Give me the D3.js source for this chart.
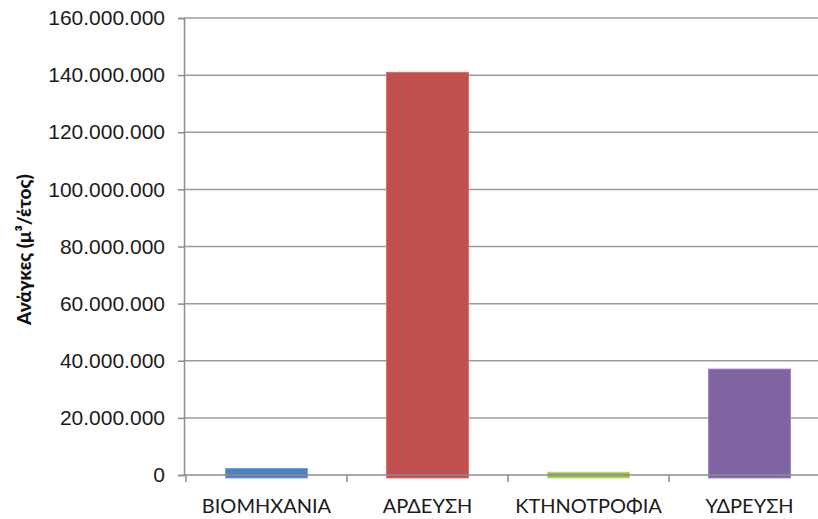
<!DOCTYPE html>
<html>
<head>
<meta charset="utf-8">
<script src="https://cdn.jsdelivr.net/npm/d3@7"></script>
<style>
  body { margin: 0; background: #fff; }
  svg { display: block; font-family: Lato, "Open Sans", sans-serif; }
</style>
</head>
<body>
<div id="chart"></div>
<script>
var categories = ["ΒΙΟΜΗΧΑΝΙΑ", "ΑΡΔΕΥΣΗ", "ΚΤΗΝΟΤΡΟΦΙΑ", "ΥΔΡΕΥΣΗ"];
var needs = [2300000, 141000000, 1000000, 37100000];
var barColors = ["#4F81BD", "#C0504D", "#9BBB59", "#8064A2"];
var yTicks = [0, 20000000, 40000000, 60000000, 80000000, 100000000, 120000000, 140000000, 160000000];
var yTitle = "Ανάγκες (μ³/έτος)";

var width = 818, height = 519;
var margin = {left: 184, right: -12, top: 18, bottom: 44};

var svg = d3.select('#chart')
  .append('svg')
  .attr("width", width)
  .attr("height", height);

var x = d3.scaleBand()
  .domain(categories)
  .range([margin.left + 2, width - margin.right])
  .paddingInner(0.49)
  .paddingOuter(0.245);

var y = d3.scaleLinear()
  .domain([0, 160000000])
  .range([height - margin.bottom, margin.top]);

var fmt = function(d) {
  return d3.format(",")(d).replace(/,/g, ".");
};

// gridlines + left axis
var yAxis = g => g
  .attr("transform", `translate(${margin.left},0)`)
  .call(d3.axisLeft(y).tickValues(yTicks).tickFormat(fmt).tickSize(6).tickPadding(13))
  .call(g => g.selectAll(".tick line").attr("stroke", "#8c8c8c").attr("stroke-width", 1.5))
  .call(g => g.select(".domain").attr("stroke", "#8c8c8c").attr("stroke-width", 1.5))
  .call(g => g.selectAll(".tick text")
    .attr("fill", "#1a1a1a")
    .style("font-size", "21px"));

svg.append("g")
  .attr("stroke", "#9a9a9a")
  .attr("stroke-width", 1.5)
  .selectAll("line")
  .data(yTicks.slice(1))
  .enter()
  .append("line")
  .attr("x1", margin.left)
  .attr("x2", width)
  .attr("y1", d => y(d))
  .attr("y2", d => y(d));

// bars (Excel draws them a little past the baseline)
svg.append("g")
  .selectAll("rect")
  .data(needs)
  .enter()
  .append("rect")
  .attr("x", (d, i) => x(categories[i]))
  .attr("width", x.bandwidth())
  .attr("y", d => y(d))
  .attr("height", d => y(0) - y(d) + 3)
  .attr("fill", (d, i) => barColors[i])
  .attr("stroke", (d, i) => d3.color(barColors[i]).brighter(0.6))
  .attr("stroke-width", 0.8);

// baseline
svg.append("line")
  .attr("x1", margin.left)
  .attr("x2", width)
  .attr("y1", y(0))
  .attr("y2", y(0))
  .attr("stroke", "#8c8c8c")
  .attr("stroke-width", 1.5);

svg.append("g").call(yAxis);

// category ticks below the baseline
var bounds = categories.map(c => x(c) - x.step() * x.paddingInner() / 2);
bounds.push(bounds[bounds.length - 1] + x.step());
svg.append("g")
  .selectAll("line")
  .data(bounds)
  .enter()
  .append("line")
  .attr("x1", d => d)
  .attr("x2", d => d)
  .attr("y1", y(0))
  .attr("y2", y(0) + 7)
  .attr("stroke", "#8c8c8c")
  .attr("stroke-width", 1.5);

svg.append("g")
  .selectAll("text")
  .data(categories)
  .enter()
  .append("text")
  .attr("x", d => x(d) + x.bandwidth() / 2)
  .attr("y", 513)
  .attr("text-anchor", "middle")
  .attr("fill", "#1a1a1a")
  .style("font-size", "20px")
  .text(d => d);

svg.append("text")
  .attr("transform", `translate(31,${(y(0) + y(160000000)) / 2 + 3}) rotate(-90)`)
  .attr("text-anchor", "middle")
  .attr("fill", "#111")
  .style("font-size", "19px")
  .style("font-weight", "900")
  .text(yTitle);
</script>
</body>
</html>
